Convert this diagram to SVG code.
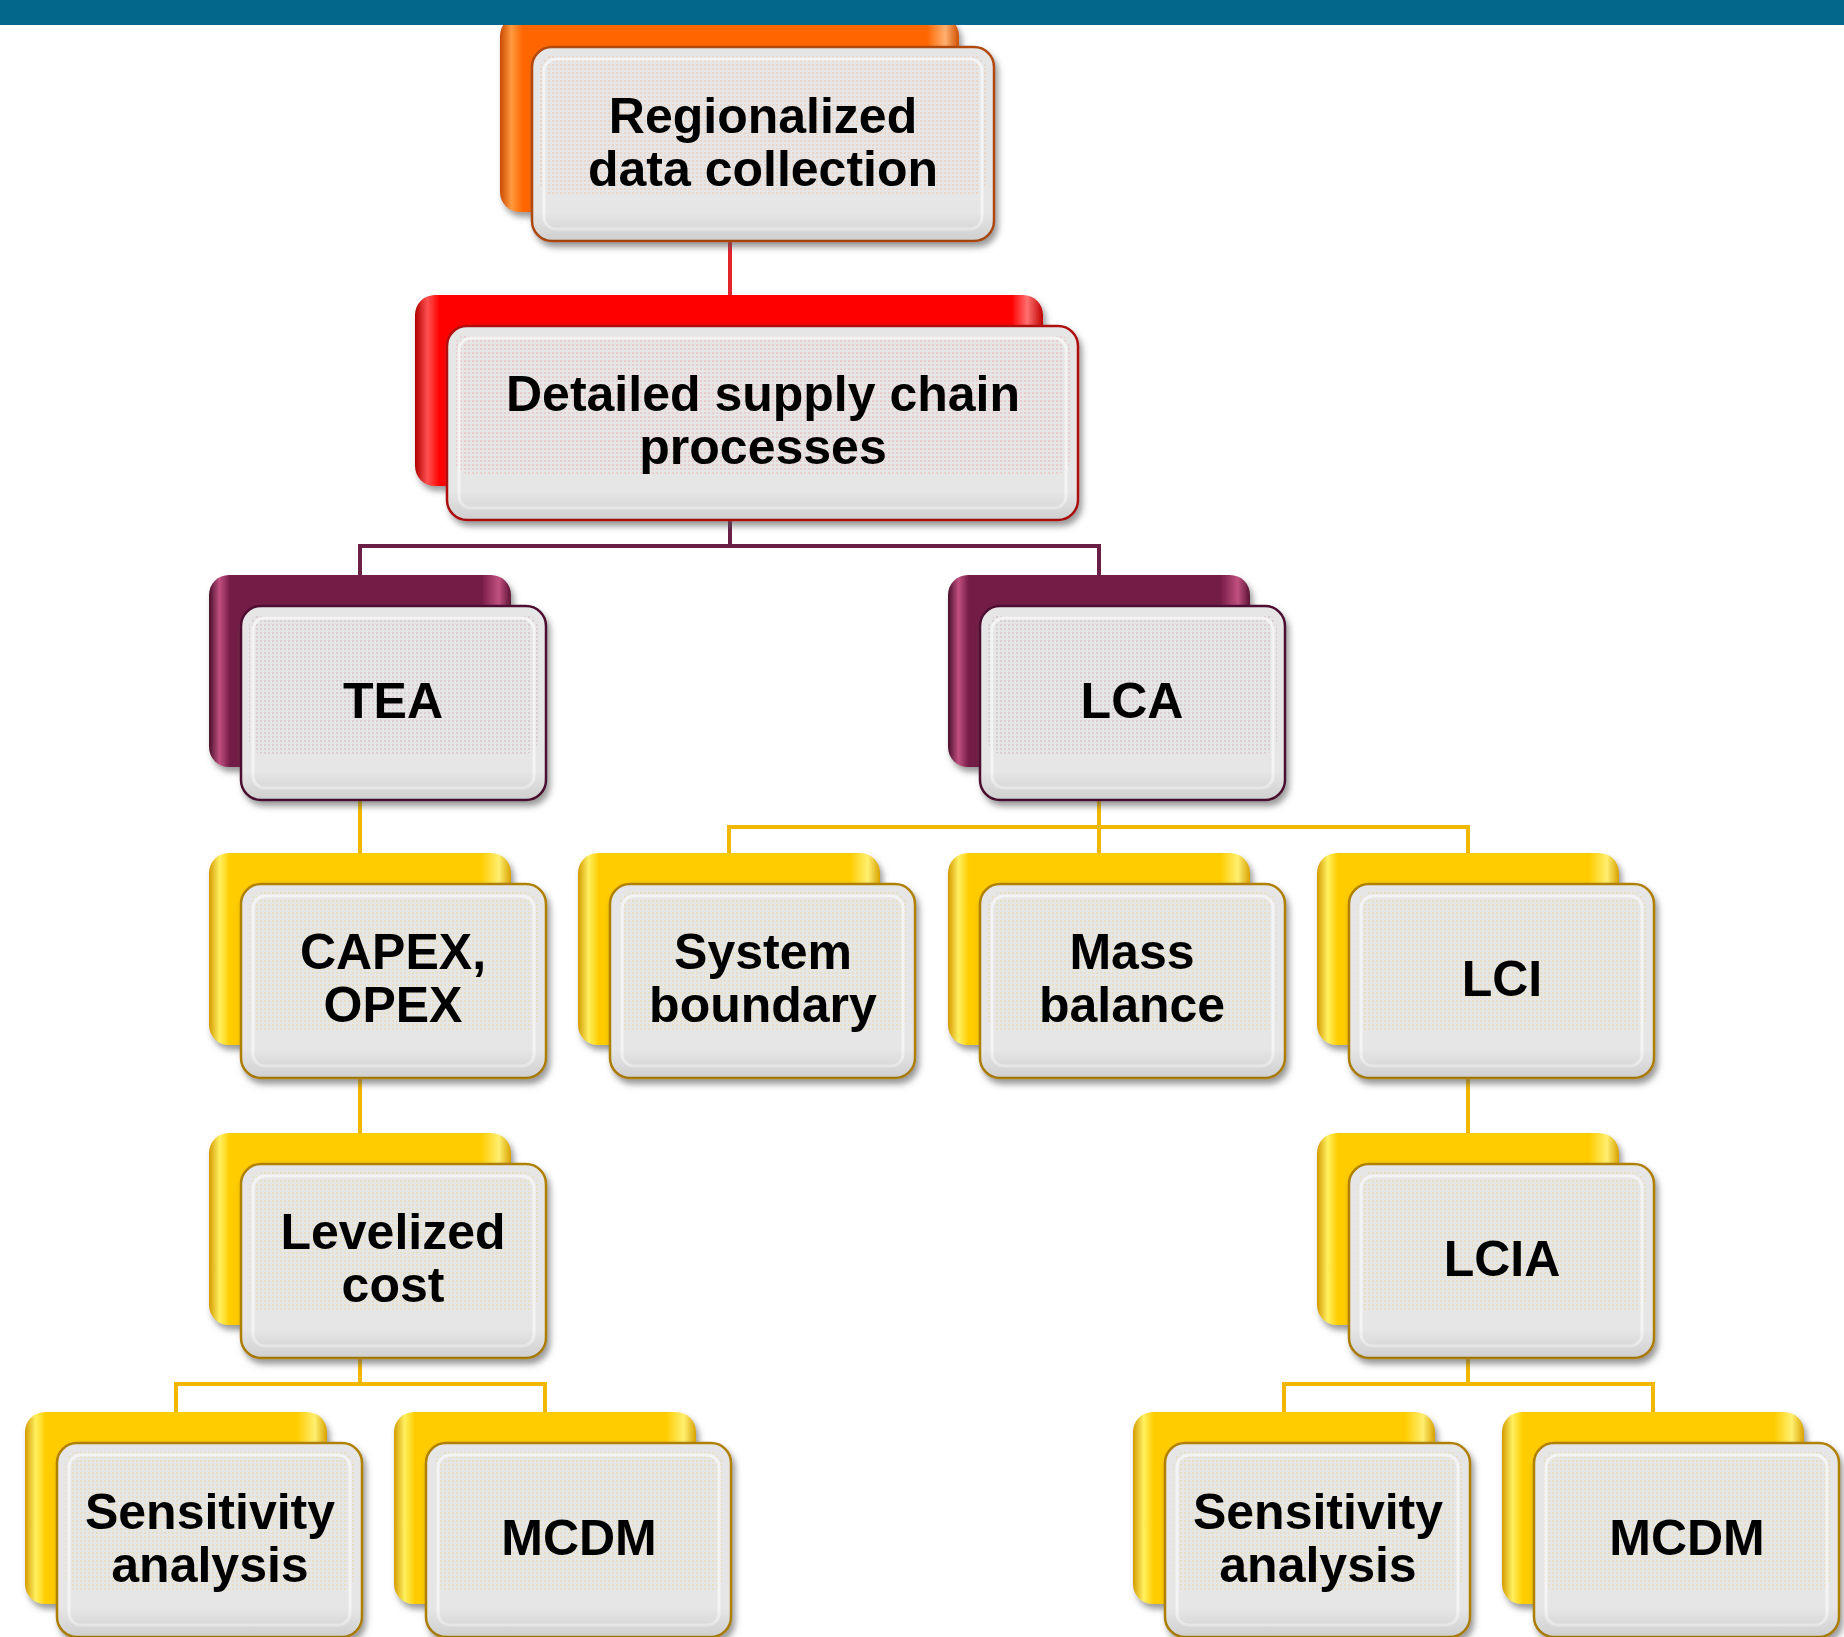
<svg xmlns="http://www.w3.org/2000/svg" width="1844" height="1637" viewBox="0 0 1844 1637">
<defs>
  <linearGradient id="g-orange" x1="0" y1="0" x2="1" y2="0">
    <stop offset="0" stop-color="#C94A00"/><stop offset="0.025" stop-color="#FF9A40"/><stop offset="0.05" stop-color="#FF6600"/>
    <stop offset="0.93" stop-color="#FF6600"/><stop offset="0.97" stop-color="#FFB070"/><stop offset="1" stop-color="#D05000"/>
  </linearGradient>
  <linearGradient id="g-red" x1="0" y1="0" x2="1" y2="0">
    <stop offset="0" stop-color="#B00000"/><stop offset="0.02" stop-color="#FF5050"/><stop offset="0.04" stop-color="#FF0000"/>
    <stop offset="0.95" stop-color="#FF0000"/><stop offset="0.975" stop-color="#FF7070"/><stop offset="1" stop-color="#C00000"/>
  </linearGradient>
  <linearGradient id="g-purple" x1="0" y1="0" x2="1" y2="0">
    <stop offset="0" stop-color="#4A0F2C"/><stop offset="0.035" stop-color="#C0507F"/><stop offset="0.07" stop-color="#731A45"/>
    <stop offset="0.9" stop-color="#731A45"/><stop offset="0.96" stop-color="#C0507F"/><stop offset="1" stop-color="#5A1234"/>
  </linearGradient>
  <linearGradient id="g-gold" x1="0" y1="0" x2="1" y2="0">
    <stop offset="0" stop-color="#D49A00"/><stop offset="0.035" stop-color="#FFF060"/><stop offset="0.07" stop-color="#FFCC00"/>
    <stop offset="0.9" stop-color="#FFCC00"/><stop offset="0.96" stop-color="#FFEF70"/><stop offset="1" stop-color="#D9A200"/>
  </linearGradient>
  <linearGradient id="g-shade" x1="0" y1="0" x2="0" y2="1">
    <stop offset="0" stop-color="#000" stop-opacity="0"/><stop offset="0.85" stop-color="#000" stop-opacity="0"/><stop offset="1" stop-color="#000" stop-opacity="0.1"/>
  </linearGradient>
  <pattern id="p-orange" width="4" height="4" patternUnits="userSpaceOnUse"><circle cx="1" cy="1" r="0.8" fill="#FF7A20" fill-opacity="0.35"/></pattern>
  <pattern id="p-red" width="4" height="4" patternUnits="userSpaceOnUse"><circle cx="1" cy="1" r="0.8" fill="#FF2020" fill-opacity="0.3"/></pattern>
  <pattern id="p-purple" width="4" height="4" patternUnits="userSpaceOnUse"><circle cx="1" cy="1" r="0.8" fill="#8A2A55" fill-opacity="0.3"/></pattern>
  <pattern id="p-gold" width="4" height="4" patternUnits="userSpaceOnUse"><circle cx="1" cy="1" r="0.8" fill="#F0B400" fill-opacity="0.35"/></pattern>
  <filter id="shadow" x="-10%" y="-10%" width="125%" height="130%">
    <feDropShadow dx="3" dy="5" stdDeviation="3" flood-color="#555" flood-opacity="0.6"/>
  </filter>
</defs>
<style>
  .front { fill: #E6E6E6; stroke-width: 2.5; filter: url(#shadow); }
  .bevel { fill: none; stroke: #F4F4F4; stroke-width: 3; }
  .back { filter: url(#shadow); }
  .o .back { fill: url(#g-orange); } .o .front { stroke: #B04A10; } .o .tex { fill: url(#p-orange); }
  .r .back { fill: url(#g-red); } .r .front { stroke: #B01010; } .r .tex { fill: url(#p-red); }
  .p .back { fill: url(#g-purple); } .p .front { stroke: #4E1030; } .p .tex { fill: url(#p-purple); }
  .y .back { fill: url(#g-gold); } .y .front { stroke: #B08000; } .y .tex { fill: url(#p-gold); }
  .shade { fill: url(#g-shade); }
  text { font-family: "Liberation Sans", Arial, sans-serif; font-weight: bold; font-size: 50px; fill: #000; text-anchor: middle; }
  .c { fill: none; stroke-width: 4; }
  .c-red { stroke: #E2242C; }
  .c-pur { stroke: #6B1F47; }
  .c-gold { stroke: #F2B700; }
</style>

<g id="connectors">
  <path class="c c-red" d="M730 200 V300"/>
  <path class="c c-pur" d="M730 480 V546 M360 580 V546 H1099 V580"/>
  <path class="c c-gold" d="M360 760 V858"/>
  <path class="c c-gold" d="M1099 760 V827 M729 858 V827 H1468 V858 M1099 827 V858"/>
  <path class="c c-gold" d="M360 1040 V1138"/>
  <path class="c c-gold" d="M1468 1040 V1138"/>
  <path class="c c-gold" d="M360 1320 V1384 M176 1416 V1384 H545 V1416"/>
  <path class="c c-gold" d="M1468 1320 V1384 M1284 1416 V1384 H1653 V1416"/>
</g>

<g id="node-regionalized" class="o">
  <rect class="back" x="500" y="16" width="459" height="196" rx="20"/>
  <rect class="front" x="532" y="47" width="462" height="194" rx="20"/>
  <rect class="tex" x="540" y="55" width="446" height="140" rx="14"/>
  <rect class="bevel" x="544" y="59" width="438" height="170" rx="12"/>
  <rect class="shade" x="532" y="47" width="462" height="194" rx="20"/>
  <text x="763" y="133">Regionalized</text>
  <text x="763" y="186">data collection</text>
</g>

<rect id="top-bar" x="0" y="0" width="1844" height="25" fill="#03678B"/>

<g id="node-detailed" class="r">
  <rect class="back" x="415" y="295" width="628" height="191" rx="20"/>
  <rect class="front" x="447" y="326" width="631" height="194" rx="20"/>
  <rect class="tex" x="455" y="334" width="615" height="140" rx="14"/>
  <rect class="bevel" x="459" y="338" width="607" height="170" rx="12"/>
  <rect class="shade" x="447" y="326" width="631" height="194" rx="20"/>
  <text x="763" y="411">Detailed supply chain</text>
  <text x="763" y="464">processes</text>
</g>

<g id="node-tea" class="p">
  <rect class="back" x="209" y="575" width="302" height="192" rx="20"/>
  <rect class="front" x="241" y="606" width="305" height="194" rx="20"/>
  <rect class="tex" x="249" y="614" width="289" height="140" rx="14"/>
  <rect class="bevel" x="253" y="618" width="281" height="170" rx="12"/>
  <rect class="shade" x="241" y="606" width="305" height="194" rx="20"/>
  <text x="393" y="718">TEA</text>
</g>

<g id="node-lca" class="p">
  <rect class="back" x="948" y="575" width="302" height="192" rx="20"/>
  <rect class="front" x="980" y="606" width="305" height="194" rx="20"/>
  <rect class="tex" x="988" y="614" width="289" height="140" rx="14"/>
  <rect class="bevel" x="992" y="618" width="281" height="170" rx="12"/>
  <rect class="shade" x="980" y="606" width="305" height="194" rx="20"/>
  <text x="1132" y="718">LCA</text>
</g>

<g id="node-capex" class="y">
  <rect class="back" x="209" y="853" width="302" height="192" rx="20"/>
  <rect class="front" x="241" y="884" width="305" height="194" rx="20"/>
  <rect class="tex" x="249" y="892" width="289" height="140" rx="14"/>
  <rect class="bevel" x="253" y="896" width="281" height="170" rx="12"/>
  <rect class="shade" x="241" y="884" width="305" height="194" rx="20"/>
  <text x="393" y="969">CAPEX,</text>
  <text x="393" y="1022">OPEX</text>
</g>

<g id="node-system-boundary" class="y">
  <rect class="back" x="578" y="853" width="302" height="192" rx="20"/>
  <rect class="front" x="610" y="884" width="305" height="194" rx="20"/>
  <rect class="tex" x="618" y="892" width="289" height="140" rx="14"/>
  <rect class="bevel" x="622" y="896" width="281" height="170" rx="12"/>
  <rect class="shade" x="610" y="884" width="305" height="194" rx="20"/>
  <text x="763" y="969">System</text>
  <text x="763" y="1022">boundary</text>
</g>

<g id="node-mass-balance" class="y">
  <rect class="back" x="948" y="853" width="302" height="192" rx="20"/>
  <rect class="front" x="980" y="884" width="305" height="194" rx="20"/>
  <rect class="tex" x="988" y="892" width="289" height="140" rx="14"/>
  <rect class="bevel" x="992" y="896" width="281" height="170" rx="12"/>
  <rect class="shade" x="980" y="884" width="305" height="194" rx="20"/>
  <text x="1132" y="969">Mass</text>
  <text x="1132" y="1022">balance</text>
</g>

<g id="node-lci" class="y">
  <rect class="back" x="1317" y="853" width="302" height="192" rx="20"/>
  <rect class="front" x="1349" y="884" width="305" height="194" rx="20"/>
  <rect class="tex" x="1357" y="892" width="289" height="140" rx="14"/>
  <rect class="bevel" x="1361" y="896" width="281" height="170" rx="12"/>
  <rect class="shade" x="1349" y="884" width="305" height="194" rx="20"/>
  <text x="1502" y="996">LCI</text>
</g>

<g id="node-levelized" class="y">
  <rect class="back" x="209" y="1133" width="302" height="192" rx="20"/>
  <rect class="front" x="241" y="1164" width="305" height="194" rx="20"/>
  <rect class="tex" x="249" y="1172" width="289" height="140" rx="14"/>
  <rect class="bevel" x="253" y="1176" width="281" height="170" rx="12"/>
  <rect class="shade" x="241" y="1164" width="305" height="194" rx="20"/>
  <text x="393" y="1249">Levelized</text>
  <text x="393" y="1302">cost</text>
</g>

<g id="node-lcia" class="y">
  <rect class="back" x="1317" y="1133" width="302" height="192" rx="20"/>
  <rect class="front" x="1349" y="1164" width="305" height="194" rx="20"/>
  <rect class="tex" x="1357" y="1172" width="289" height="140" rx="14"/>
  <rect class="bevel" x="1361" y="1176" width="281" height="170" rx="12"/>
  <rect class="shade" x="1349" y="1164" width="305" height="194" rx="20"/>
  <text x="1502" y="1276">LCIA</text>
</g>

<g id="node-sensitivity-tea" class="y">
  <rect class="back" x="25" y="1412" width="302" height="192" rx="20"/>
  <rect class="front" x="57" y="1443" width="305" height="194" rx="20"/>
  <rect class="tex" x="65" y="1451" width="289" height="140" rx="14"/>
  <rect class="bevel" x="69" y="1455" width="281" height="170" rx="12"/>
  <rect class="shade" x="57" y="1443" width="305" height="194" rx="20"/>
  <text x="210" y="1529">Sensitivity</text>
  <text x="210" y="1582">analysis</text>
</g>

<g id="node-mcdm-tea" class="y">
  <rect class="back" x="394" y="1412" width="302" height="192" rx="20"/>
  <rect class="front" x="426" y="1443" width="305" height="194" rx="20"/>
  <rect class="tex" x="434" y="1451" width="289" height="140" rx="14"/>
  <rect class="bevel" x="438" y="1455" width="281" height="170" rx="12"/>
  <rect class="shade" x="426" y="1443" width="305" height="194" rx="20"/>
  <text x="579" y="1555">MCDM</text>
</g>

<g id="node-sensitivity-lca" class="y">
  <rect class="back" x="1133" y="1412" width="302" height="192" rx="20"/>
  <rect class="front" x="1165" y="1443" width="305" height="194" rx="20"/>
  <rect class="tex" x="1173" y="1451" width="289" height="140" rx="14"/>
  <rect class="bevel" x="1177" y="1455" width="281" height="170" rx="12"/>
  <rect class="shade" x="1165" y="1443" width="305" height="194" rx="20"/>
  <text x="1318" y="1529">Sensitivity</text>
  <text x="1318" y="1582">analysis</text>
</g>

<g id="node-mcdm-lca" class="y">
  <rect class="back" x="1502" y="1412" width="302" height="192" rx="20"/>
  <rect class="front" x="1534" y="1443" width="305" height="194" rx="20"/>
  <rect class="tex" x="1542" y="1451" width="289" height="140" rx="14"/>
  <rect class="bevel" x="1546" y="1455" width="281" height="170" rx="12"/>
  <rect class="shade" x="1534" y="1443" width="305" height="194" rx="20"/>
  <text x="1687" y="1555">MCDM</text>
</g>
</svg>
